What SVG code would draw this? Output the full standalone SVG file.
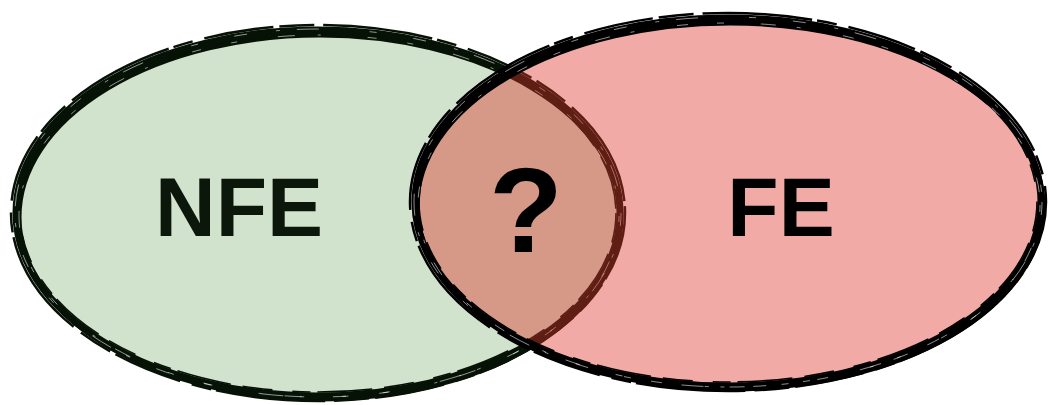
<svg xmlns="http://www.w3.org/2000/svg" width="1048" height="405" viewBox="0 0 1048 405">
  <style>
    .ink { fill: none; }
    .main { stroke-width: 7; }
    .thick { stroke-width: 5; }
    .outer { stroke-width: 2.5; stroke-dasharray: 70 6 35 9 110 5 20 12; }
    .inner { stroke-width: 1.6; stroke-dasharray: 30 12 55 7 18 20; }
    .streak { fill: none; stroke: #fff; stroke-width: 0.8; stroke-dasharray: 13 29 4 17 22 51 7 37; opacity: 0.7; }
    .label { font-family: "Liberation Sans", Arial, sans-serif; font-weight: bold; text-anchor: middle; }
  </style>
  <rect width="1048" height="405" fill="#fff"/>

  <g id="nfe">
    <ellipse cx="318" cy="213" rx="302" ry="183" fill="#d2e3cd"/>
    <g class="ink" stroke="#071207">
      <ellipse class="main" cx="318" cy="213" rx="302" ry="183"/>
      <ellipse class="thick" cx="320" cy="217" rx="301" ry="182"/>
      <ellipse class="outer" cx="318" cy="213" rx="307" ry="188"/>
      <ellipse class="inner" cx="318" cy="213" rx="298" ry="179"/>
    </g>
    <ellipse class="streak" cx="318" cy="213" rx="303" ry="184"/>
    <ellipse class="streak" cx="319" cy="216" rx="300" ry="181" style="stroke-dasharray: 6 41 17 23 3 47 9 31"/>
    <text class="label" x="239" y="236" font-size="84" fill="#0b170b">NFE</text>
  </g>

  <g id="fe">
    <ellipse cx="728" cy="202" rx="313" ry="184" fill="#dc3127" fill-opacity="0.41"/>
    <g class="ink" stroke="#000">
      <ellipse class="main" cx="728" cy="202" rx="313" ry="184"/>
      <ellipse class="thick" cx="730" cy="206" rx="313" ry="183"/>
      <ellipse class="outer" cx="728" cy="202" rx="318" ry="189"/>
      <ellipse class="inner" cx="728" cy="202" rx="309" ry="180"/>
    </g>
    <ellipse class="streak" cx="728" cy="202" rx="314" ry="185"/>
    <ellipse class="streak" cx="729" cy="205" rx="311" ry="182" style="stroke-dasharray: 7 37 15 21 4 43 11 29"/>
    <text class="label" x="781" y="236" font-size="84" fill="#000">FE</text>
  </g>

  <g id="overlap">
    <text class="label" x="526" y="252" font-size="121" fill="#000">?</text>
  </g>
</svg>
